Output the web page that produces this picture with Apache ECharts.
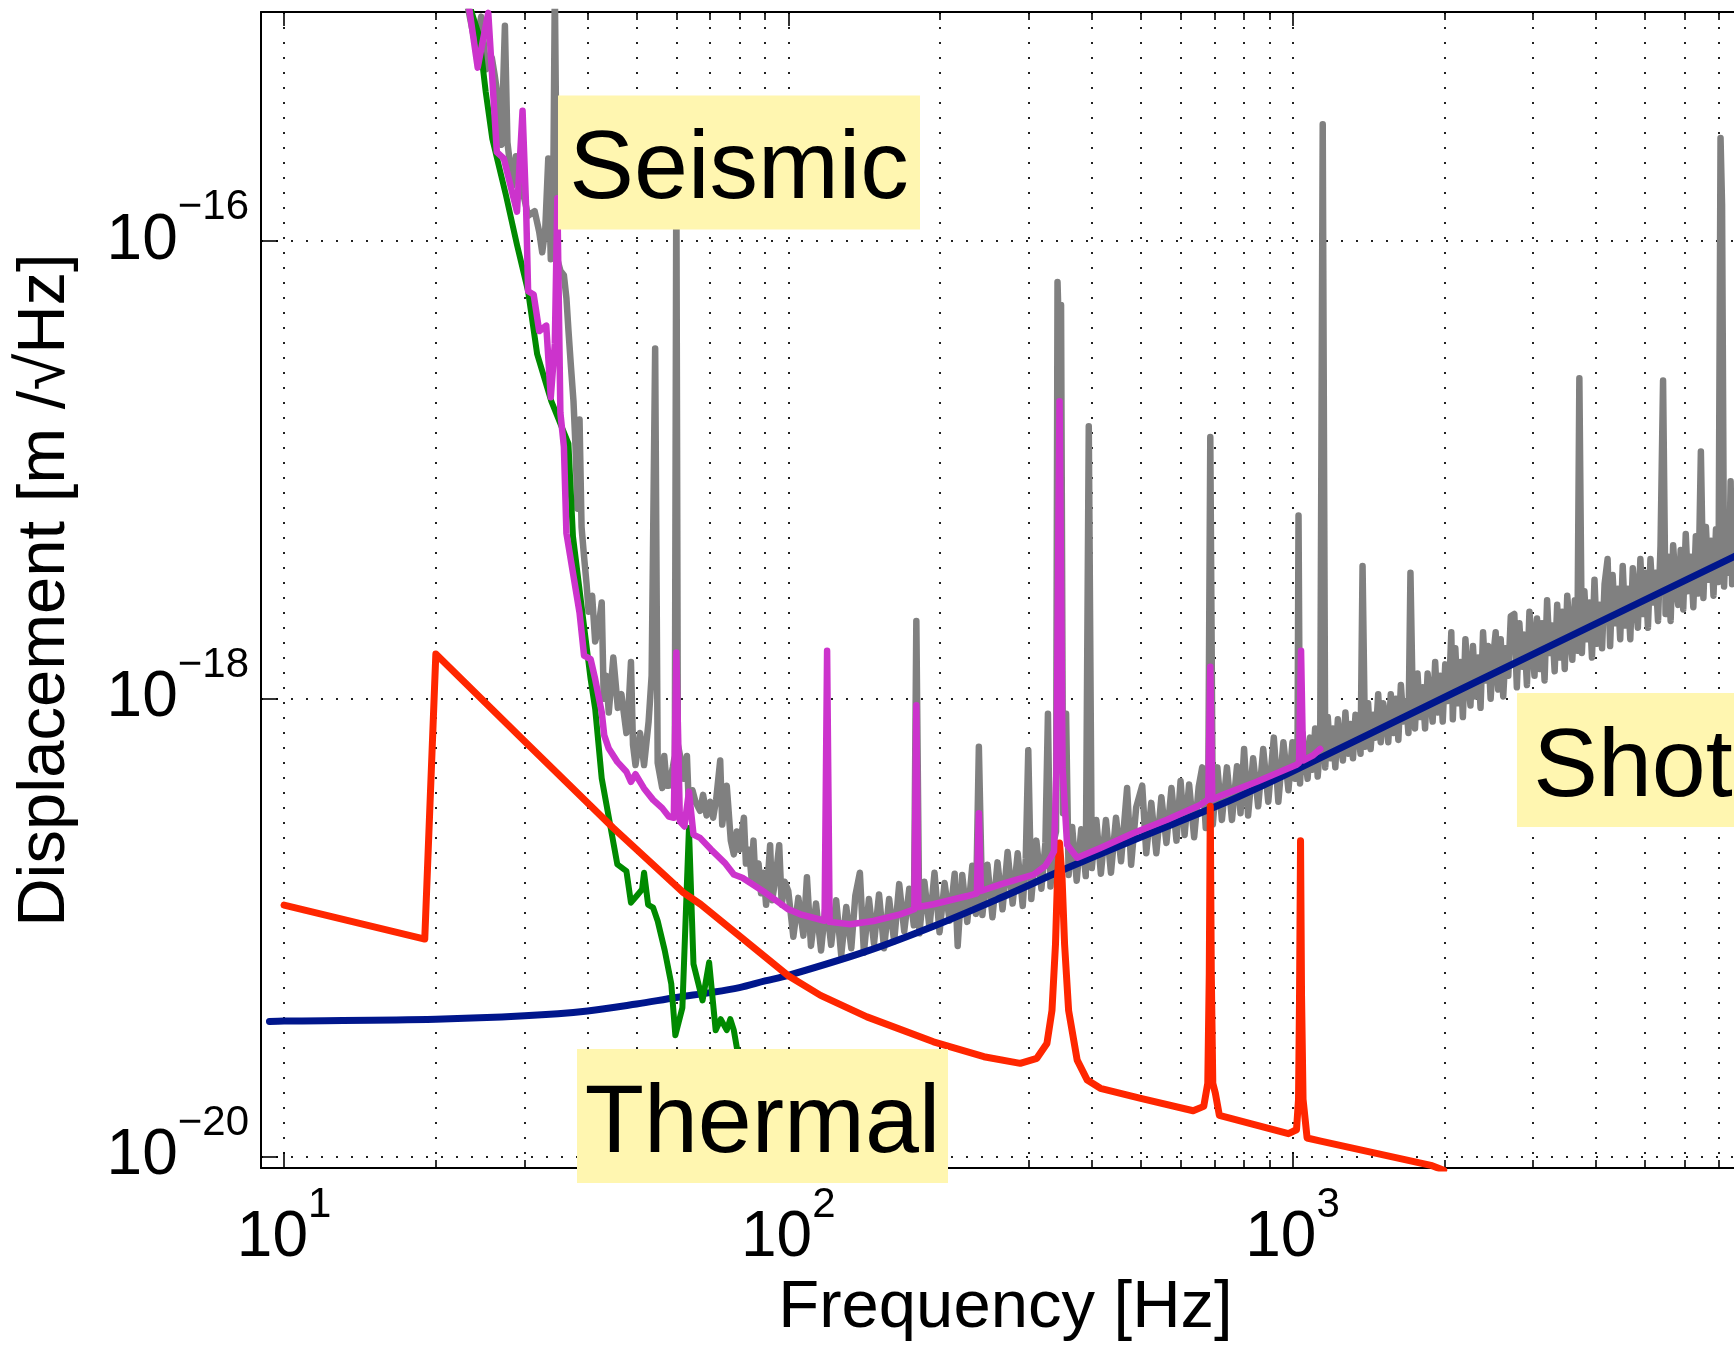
<!DOCTYPE html>
<html>
<head>
<meta charset="utf-8">
<script src="https://cdn.jsdelivr.net/npm/echarts@6/dist/echarts.min.js"></script>
<style>
html,body{margin:0;padding:0;background:#fff;}
#chart{width:1734px;height:1347px;}
</style>
</head>
<body>
<div id="chart"></div>
<script>
// ---- Data: pairs of [log10(frequency / Hz), log10(displacement / (m/sqrt(Hz)))] ----
const xTickValues = [10, 100, 1000];
const yTickValues = [1e-20, 1e-18, 1e-16];
const X_MIN = 9, X_MAX = 7511;
const Y_MIN = 8.9e-21, Y_MAX = 1e-15;

const measuredLog = [
[1.362,-14.95],[1.380,-15.15],[1.391,-15.02],[1.401,-15.25],[1.412,-15.20],[1.418,-15.28],[1.427,-15.42],[1.431,-15.58],
[1.438,-15.06],[1.443,-15.57],[1.453,-15.76],[1.460,-15.63],[1.466,-15.70],[1.475,-15.80],[1.484,-15.89],[1.497,-15.87],
[1.506,-15.96],[1.512,-16.05],[1.518,-15.95],[1.524,-15.64],[1.529,-16.08],[1.533,-16.02],[1.537,-14.90],[1.542,-16.08],
[1.548,-16.13],[1.555,-16.15],[1.560,-16.25],[1.564,-16.39],[1.569,-16.55],[1.574,-16.70],[1.578,-16.90],[1.582,-17.17],
[1.586,-16.78],[1.590,-17.25],[1.595,-17.38],[1.600,-17.50],[1.604,-17.62],[1.611,-17.55],[1.617,-17.75],[1.623,-17.70],
[1.630,-17.58],[1.634,-18.00],[1.639,-17.90],[1.644,-18.06],[1.653,-17.82],[1.662,-18.04],[1.669,-17.98],[1.679,-18.15],
[1.683,-18.05],[1.688,-17.84],[1.692,-18.20],[1.697,-18.29],[1.706,-18.15],[1.714,-18.29],[1.723,-18.10],[1.729,-17.90],
[1.736,-16.47],[1.741,-18.28],[1.750,-18.39],[1.754,-18.25],[1.759,-18.38],[1.763,-18.38],[1.771,-18.30],[1.775,-18.25],
[1.778,-15.70],[1.781,-18.20],[1.789,-18.29],[1.794,-18.35],[1.799,-18.25],[1.803,-18.48],[1.810,-18.40],[1.816,-18.45],
[1.825,-18.49],[1.831,-18.42],[1.838,-18.51],[1.845,-18.45],[1.851,-18.52],[1.857,-18.44],[1.865,-18.27],[1.869,-18.55],
[1.878,-18.38],[1.886,-18.62],[1.892,-18.68],[1.898,-18.58],[1.903,-18.66],[1.912,-18.52],[1.916,-18.72],[1.922,-18.66],
[1.927,-18.78],[1.931,-18.62],[1.935,-18.80],[1.941,-18.72],[1.946,-18.85],[1.951,-18.76],[1.956,-18.90],[1.964,-18.64],
[1.968,-18.88],[1.975,-18.78],[1.982,-18.64],[1.987,-18.90],[1.993,-18.80],
[2.000,-18.84],[2.010,-19.04],[2.020,-18.87],[2.030,-19.035],[2.037,-18.78],[2.045,-19.08],[2.055,-18.895],[2.065,-19.10],
[2.075,-18.88],[2.085,-19.075],[2.095,-18.88],[2.105,-19.12],[2.115,-18.91],[2.125,-19.09],[2.133,-18.86],[2.142,-18.76],
[2.150,-19.11],[2.160,-18.875],[2.170,-19.07],[2.180,-18.855],[2.190,-19.09],[2.200,-18.875],[2.210,-19.06],[2.220,-18.81],
[2.230,-19.015],[2.240,-18.83],[2.249,-18.99],[2.254,-17.66],[2.260,-19.025],[2.270,-18.80],[2.280,-19.00],[2.290,-18.76],
[2.300,-19.02],[2.310,-18.805],[2.320,-18.97],[2.330,-18.765],[2.336,-19.08],[2.345,-18.77],[2.355,-18.975],[2.365,-18.73],
[2.372,-18.94],[2.378,-18.21],[2.385,-18.945],[2.395,-18.725],[2.405,-18.955],[2.415,-18.715],[2.425,-18.92],[2.435,-18.67],
[2.445,-18.895],[2.455,-18.675],[2.465,-18.905],[2.471,-18.70],[2.476,-18.225],[2.482,-18.875],[2.492,-18.62],[2.502,-18.83],
[2.510,-18.63],[2.515,-18.066],[2.520,-18.82],[2.527,-18.62],[2.531,-18.58],[2.534,-16.18],[2.538,-16.50],[2.541,-16.28],
[2.545,-18.50],[2.551,-18.066],[2.556,-18.77],[2.563,-18.56],[2.572,-18.795],[2.581,-18.57],[2.590,-18.775],[2.596,-16.81],
[2.602,-18.74],[2.611,-18.53],[2.620,-18.765],[2.630,-18.53],[2.640,-18.76],[2.650,-18.52],[2.660,-18.71],[2.672,-18.39],
[2.680,-18.725],[2.690,-18.475],[2.702,-18.38],[2.710,-18.675],[2.720,-18.455],[2.730,-18.675],[2.740,-18.43],[2.750,-18.63],
[2.760,-18.39],[2.770,-18.62],[2.778,-18.36],[2.786,-18.595],[2.795,-18.375],[2.805,-18.605],[2.814,-18.385],[2.821,-18.30],
[2.828,-18.565],[2.833,-18.38],[2.837,-16.857],[2.842,-18.55],[2.851,-18.30],[2.860,-18.53],[2.870,-18.30],[2.880,-18.53],
[2.890,-18.295],[2.897,-18.50],[2.904,-18.22],[2.912,-18.51],[2.922,-18.26],[2.932,-18.47],[2.942,-18.22],[2.952,-18.45],
[2.963,-18.17],[2.972,-18.45],[2.982,-18.19],[2.992,-18.40],
[3.000,-18.19],[3.005,-18.35],[3.010,-18.24],[3.012,-17.20],[3.015,-18.37],[3.020,-18.15],[3.025,-18.26],[3.030,-18.35],
[3.035,-18.17],[3.040,-18.31],[3.045,-18.13],[3.050,-18.34],[3.055,-18.20],[3.060,-15.49],[3.065,-18.30],[3.070,-18.08],
[3.075,-18.26],[3.080,-18.13],[3.085,-18.30],[3.090,-18.09],[3.095,-18.20],[3.100,-18.27],[3.105,-18.06],[3.110,-18.24],
[3.115,-18.11],[3.120,-18.26],[3.125,-18.07],[3.130,-18.14],[3.135,-18.24],[3.139,-17.42],[3.144,-18.21],[3.150,-18.02],
[3.155,-18.22],[3.160,-18.07],[3.165,-18.17],[3.170,-17.98],[3.175,-18.19],[3.180,-18.02],[3.185,-18.09],[3.190,-18.19],
[3.195,-17.98],[3.200,-18.15],[3.205,-18.00],[3.210,-18.18],[3.215,-17.94],[3.220,-18.10],[3.225,-18.01],[3.230,-18.15],
[3.234,-17.45],[3.238,-17.95],[3.243,-18.13],[3.248,-17.89],[3.253,-18.08],[3.258,-17.95],[3.263,-18.13],[3.268,-17.89],
[3.273,-18.00],[3.278,-18.10],[3.283,-17.84],[3.288,-18.06],[3.293,-17.90],[3.298,-18.10],[3.303,-17.85],[3.308,-18.01],
[3.312,-17.89],[3.315,-17.71],[3.318,-18.09],[3.323,-17.78],[3.328,-18.02],[3.333,-17.84],[3.338,-18.08],[3.343,-17.74],
[3.348,-17.91],[3.353,-18.03],[3.358,-17.77],[3.363,-17.99],[3.368,-17.82],[3.373,-18.04],[3.378,-17.71],[3.383,-17.92],
[3.388,-17.77],[3.393,-18.00],[3.398,-17.82],[3.403,-17.71],[3.408,-17.96],[3.413,-17.74],[3.418,-17.99],[3.423,-17.78],
[3.428,-17.90],[3.433,-17.64],[3.440,-17.63],[3.445,-17.95],[3.450,-17.67],[3.455,-17.86],[3.460,-17.72],[3.465,-17.94],
[3.470,-17.62],[3.475,-17.76],[3.480,-17.90],[3.485,-17.65],[3.490,-17.87],[3.495,-17.67],[3.500,-17.92],[3.505,-17.57],
[3.510,-17.80],[3.515,-17.68],[3.520,-17.88],[3.525,-17.59],[3.530,-17.82],[3.535,-17.62],[3.540,-17.87],[3.545,-17.55],
[3.550,-17.71],[3.555,-17.83],[3.560,-17.57],[3.565,-17.79],[3.569,-16.60],[3.574,-17.80],[3.579,-17.53],[3.584,-17.74],
[3.589,-17.58],[3.594,-17.82],[3.599,-17.48],[3.604,-17.76],[3.609,-17.59],[3.614,-17.78],[3.619,-17.50],[3.625,-17.39],
[3.630,-17.77],[3.635,-17.46],[3.640,-17.67],[3.645,-17.52],[3.650,-17.74],[3.655,-17.42],[3.660,-17.68],[3.665,-17.52],
[3.670,-17.74],[3.675,-17.43],[3.680,-17.56],[3.685,-17.69],[3.690,-17.39],[3.695,-17.63],[3.700,-17.45],[3.705,-17.69],
[3.710,-17.39],[3.715,-17.58],[3.720,-17.45],[3.725,-17.66],[3.730,-17.33],[3.735,-16.61],[3.740,-17.63],[3.745,-17.38],
[3.750,-17.66],[3.755,-17.33],[3.760,-17.50],[3.765,-17.59],[3.770,-17.35],[3.775,-17.61],[3.780,-17.28],[3.785,-17.53],
[3.790,-17.38],[3.795,-17.60],[3.800,-17.29],[3.805,-17.54],[3.810,-16.92],[3.815,-17.56],[3.820,-17.25],[3.825,-17.48],
[3.830,-17.31],[3.835,-17.55],[3.840,-17.26],[3.845,-17.49],[3.849,-15.55],[3.852,-15.84],[3.856,-17.51],[3.861,-17.22],
[3.866,-17.45],[3.869,-17.05],[3.872,-17.50],[3.877,-17.23],[3.882,-17.44]
];

const totalModelLog = [
[1.365,-14.95],[1.384,-15.243],[1.396,-15.105],[1.405,-15.004],[1.413,-15.293],[1.422,-15.612],[1.436,-15.641],[1.444,-15.713],
[1.462,-15.872],[1.473,-15.431],[1.480,-15.85],[1.484,-16.22],[1.495,-16.234],[1.506,-16.394],[1.520,-16.37],[1.529,-16.683],
[1.537,-16.45],[1.542,-15.814],[1.548,-16.75],[1.555,-16.90],[1.560,-17.277],[1.573,-17.451],[1.586,-17.624],[1.595,-17.812],
[1.608,-17.827],[1.617,-17.914],[1.630,-18.059],[1.635,-18.16],[1.644,-18.218],[1.661,-18.276],[1.679,-18.319],[1.688,-18.363],
[1.697,-18.33],[1.714,-18.392],[1.732,-18.442],[1.750,-18.478],[1.763,-18.515],[1.773,-18.52],[1.778,-17.798],[1.785,-18.536],
[1.794,-18.558],[1.803,-18.406],[1.812,-18.594],[1.825,-18.608],[1.847,-18.659],[1.874,-18.717],[1.892,-18.768],[1.909,-18.782],
[1.954,-18.847],[1.975,-18.88],[2.000,-18.92],[2.024,-18.942],[2.072,-18.97],[2.077,-17.791],[2.082,-18.975],[2.123,-18.985],
[2.169,-18.971],[2.222,-18.942],[2.250,-18.92],[2.254,-18.029],[2.258,-18.91],[2.288,-18.898],[2.355,-18.862],[2.374,-18.85],
[2.378,-18.50],[2.382,-18.84],[2.421,-18.811],[2.487,-18.768],[2.510,-18.73],[2.520,-18.695],[2.527,-18.667],[2.532,-18.30],
[2.536,-17.20],[2.538,-16.70],[2.540,-17.20],[2.544,-18.30],[2.553,-18.638],[2.573,-18.695],[2.619,-18.652],[2.685,-18.587],
[2.751,-18.529],[2.817,-18.464],[2.833,-18.44],[2.837,-17.86],[2.841,-18.44],[2.862,-18.42],[2.929,-18.363],[3.007,-18.29],
[3.013,-18.28],[3.017,-17.79],[3.021,-18.27],[3.041,-18.247],[3.055,-18.22]
];

const seismicLog = [
[1.369,-14.98],[1.387,-15.105],[1.400,-15.35],[1.413,-15.554],[1.440,-15.80],[1.462,-16.017],[1.484,-16.22],[1.502,-16.495],
[1.530,-16.70],[1.564,-16.886],[1.573,-17.291],[1.590,-17.595],[1.608,-17.914],[1.617,-18.044],[1.630,-18.348],[1.661,-18.724],
[1.679,-18.753],[1.688,-18.891],[1.700,-18.86],[1.710,-18.833],[1.714,-18.76],[1.722,-18.90],[1.732,-18.913],[1.741,-18.971],
[1.755,-19.10],[1.768,-19.246],[1.776,-19.47],[1.790,-19.35],[1.803,-18.565],[1.812,-19.159],[1.830,-19.318],[1.843,-19.152],
[1.856,-19.448],[1.866,-19.40],[1.878,-19.448],[1.885,-19.40],[1.892,-19.448],[1.900,-19.55],[1.915,-19.65]
];

const thermalLog = [
[1.000,-18.902],[1.279,-19.05],[1.301,-17.805],[1.477,-18.186],[1.653,-18.565],[1.792,-18.847],[1.826,-18.898],[2.000,-19.21],
[2.064,-19.296],[2.156,-19.39],[2.288,-19.499],[2.388,-19.564],[2.460,-19.593],[2.493,-19.571],[2.513,-19.506],[2.523,-19.362],
[2.530,-19.072],[2.534,-18.782],[2.538,-18.63],[2.543,-18.782],[2.548,-19.072],[2.556,-19.362],[2.573,-19.579],[2.593,-19.666],
[2.619,-19.702],[2.697,-19.745],[2.803,-19.80],[2.824,-19.781],[2.832,-19.68],[2.835,-19.2],[2.837,-18.47],[2.839,-19.2],
[2.842,-19.68],[2.847,-19.723],[2.855,-19.82],[2.992,-19.90],[3.008,-19.883],[3.012,-19.75],[3.014,-19.3],[3.016,-18.62],
[3.018,-19.3],[3.021,-19.75],[3.029,-19.919],[3.056,-19.933],[3.277,-20.04],[3.300,-20.06]
];

const shotLog = [
[0.971,-19.410],[1.000,-19.408],[1.301,-19.400],[1.477,-19.385],[1.602,-19.364],[1.699,-19.334],[1.778,-19.305],[1.845,-19.284],
[1.903,-19.262],[1.954,-19.233],[2.000,-19.209],[2.156,-19.103],[2.288,-18.994],[2.420,-18.871],[2.552,-18.741],[2.684,-18.618],
[2.862,-18.458],[2.990,-18.328],[3.320,-17.974],[3.876,-17.379],[3.900,-17.353]
];

const labelTexts = ['Seismic', 'Thermal', 'Shot'];

// ---- helpers ----
const FONT = '"Liberation Sans", Arial, Helvetica, sans-serif';
function toValues(arr) { return arr.map(p => [Math.pow(10, p[0]), Math.pow(10, p[1])]); }
function powerLabel(value) {
  const e = Math.round(Math.log10(value));
  const sup = e < 0 ? '\u2212' + (-e) : String(e);
  return '{b|10}{s|' + sup + '}';
}
const powRich = {
  b: { fontSize: 64, lineHeight: 108, color: '#000', fontFamily: FONT },
  s: { fontSize: 42, lineHeight: 42, verticalAlign: 'top', color: '#000', fontFamily: FONT }
};
const gridLineStyle = { color: '#222', width: 2, type: [2, 13] };
const axisLineStyle = { color: '#000', width: 2 };
const tickLineStyle = { color: '#000', width: 1.6 };

const chart = echarts.init(document.getElementById('chart'), null, { renderer: 'canvas' });

const lineBase = { type: 'line', showSymbol: false, symbol: 'none', clip: true, silent: true, animation: false,
  emphasis: { disabled: true } };

const option = {
  animation: false,
  backgroundColor: '#ffffff',
  textStyle: { fontFamily: FONT },
  grid: { left: 261, right: 0, top: 12, bottom: 172, containLabel: false },
  xAxis: [
    {
      type: 'log', logBase: 10, min: X_MIN, max: X_MAX, position: 'bottom',
      axisLine: { show: true, onZero: false, lineStyle: axisLineStyle },
      axisTick: { show: true, inside: true, length: 16, customValues: xTickValues, lineStyle: tickLineStyle },
      minorTick: { show: true, splitNumber: 9, length: 8, lineStyle: tickLineStyle },
      axisLabel: { show: true, customValues: xTickValues, margin: 16, formatter: powerLabel, rich: powRich, color: '#000' },
      splitLine: { show: true, lineStyle: gridLineStyle },
      minorSplitLine: { show: true, lineStyle: gridLineStyle },
      name: 'Frequency [Hz]', nameLocation: 'middle', nameGap: 100,
      nameTextStyle: { fontSize: 67, color: '#000', fontFamily: FONT, padding: [0, 0, 0, 16] }
    },
    {
      type: 'log', logBase: 10, min: X_MIN, max: X_MAX, position: 'top',
      axisLine: { show: true, onZero: false, lineStyle: axisLineStyle },
      axisTick: { show: true, inside: true, length: 14, customValues: xTickValues, lineStyle: tickLineStyle },
      minorTick: { show: true, splitNumber: 9, length: 8, lineStyle: tickLineStyle },
      axisLabel: { show: false },
      splitLine: { show: false },
      minorSplitLine: { show: false }
    }
  ],
  yAxis: [
    {
      type: 'log', logBase: 10, min: Y_MIN, max: Y_MAX, position: 'left',
      axisLine: { show: true, onZero: false, lineStyle: axisLineStyle },
      axisTick: { show: true, inside: true, length: 17, customValues: yTickValues, lineStyle: tickLineStyle },
      minorTick: { show: false },
      axisLabel: { show: true, customValues: yTickValues, margin: 12, formatter: powerLabel, rich: powRich, color: '#000' },
      splitLine: { show: true, lineStyle: gridLineStyle },
      minorSplitLine: { show: false },
      name: 'Displacement [m /\u221AHz]', nameLocation: 'middle', nameRotate: 90, nameGap: 182,
      nameTextStyle: { fontSize: 67, color: '#000', fontFamily: FONT }
    }
  ],
  series: [
    Object.assign({}, lineBase, { name: 'Measured', data: toValues(measuredLog), z: 2,
      lineStyle: { color: '#808080', width: 6.5, cap: 'round', join: 'round' } }),
    Object.assign({}, lineBase, { name: 'Shot', data: toValues(shotLog), z: 2, smooth: 0.35,
      lineStyle: { color: '#00168C', width: 7, cap: 'round', join: 'round' } }),
    Object.assign({}, lineBase, { name: 'Seismic', data: toValues(seismicLog), z: 2,
      lineStyle: { color: '#008A00', width: 6, cap: 'round', join: 'round' } }),
    Object.assign({}, lineBase, { name: 'Thermal', data: toValues(thermalLog), z: 2,
      lineStyle: { color: '#FF2600', width: 7, cap: 'round', join: 'round' } }),
    Object.assign({}, lineBase, { name: 'Total', data: toValues(totalModelLog), z: 2,
      lineStyle: { color: '#CC33CC', width: 6.5, cap: 'round', join: 'round' },
      markPoint: {
        silent: true, animation: false, symbol: 'rect',
        itemStyle: { color: '#FFF6B0', borderWidth: 0 },
        label: { show: true, position: 'inside', offset: [0, 9], formatter: '{b}', fontSize: 97, color: '#000', fontFamily: FONT },
        data: [
          { name: labelTexts[0], coord: [Math.pow(10, 1.9023), Math.pow(10, -15.658)], symbolSize: [362, 134] },
          { name: labelTexts[1], coord: [Math.pow(10, 1.9489), Math.pow(10, -19.823)], symbolSize: [371, 134] },
          { name: labelTexts[2], coord: [Math.pow(10, 3.6753), Math.pow(10, -18.268)], symbolSize: [232, 134] }
        ]
      } })
  ]
};
chart.setOption(option);
</script>
</body>
</html>
